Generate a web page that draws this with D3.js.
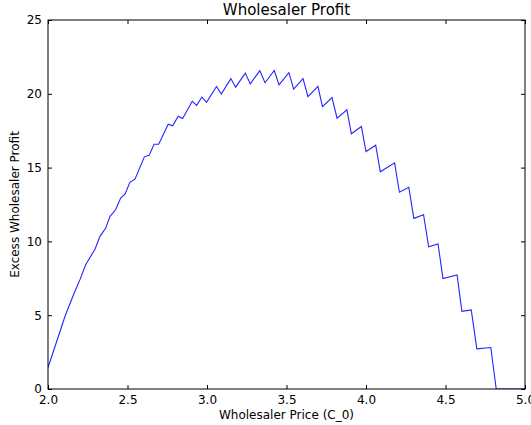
<!DOCTYPE html>
<html>
<head>
<meta charset="utf-8">
<script src="https://cdn.jsdelivr.net/npm/d3@7"></script>
<style>
	body { margin: 0; background: #fff; }
	text { font-family: "DejaVu Sans", sans-serif; fill: #000; }
	.axis path, .axis line { stroke: #000; }
</style>
</head>
<body>
<div id="chart-area"></div>
<script>
// prices (C_0) and excess profit
var prices = [2.000, 2.054, 2.107, 2.163, 2.201, 2.237, 2.268, 2.296, 2.327, 2.363, 2.390, 2.425,
	2.457, 2.484, 2.515, 2.547, 2.606, 2.636, 2.667, 2.696, 2.756, 2.784, 2.819, 2.847, 2.907, 2.935,
	2.968, 2.997, 3.060, 3.090, 3.150, 3.180, 3.241, 3.272, 3.332, 3.365, 3.423, 3.453, 3.515, 3.545,
	3.604, 3.635, 3.698, 3.726, 3.786, 3.818, 3.880, 3.908, 3.971, 4.000, 4.061, 4.090, 4.180, 4.210,
	4.269, 4.301, 4.362, 4.394, 4.453, 4.484, 4.573, 4.603, 4.662, 4.697, 4.785, 4.819, 5.000];
var profits = [1.45, 3.20, 4.93, 6.45, 7.41, 8.42, 8.98, 9.49, 10.34, 10.90, 11.70, 12.14,
	12.94, 13.20, 14.00, 14.22, 15.73, 15.83, 16.58, 16.59, 17.94, 17.83, 18.48, 18.32, 19.49, 19.22,
	19.78, 19.42, 20.49, 19.99, 21.03, 20.45, 21.40, 20.67, 21.57, 20.75, 21.58, 20.60, 21.43, 20.32,
	21.03, 19.81, 20.51, 19.13, 19.74, 18.35, 18.91, 17.29, 17.78, 16.09, 16.52, 14.72, 15.32, 13.33,
	13.67, 11.56, 11.81, 9.64, 9.83, 7.49, 7.73, 5.26, 5.36, 2.72, 2.81, 0, 0];
var xTicks = [2.0, 2.5, 3.0, 3.5, 4.0, 4.5, 5.0];
var yTicks = [0, 5, 10, 15, 20, 25];

var data = prices.map((p, i) => ({price: p, profit: profits[i]}));

var margin = {top: 20, right: 6, bottom: 36, left: 48};
let width = 531 - margin.left - margin.right,
	height = 425 - margin.top - margin.bottom;

var svg = d3.select("#chart-area").append("svg")
	.attr("width", width + margin.left + margin.right)
	.attr("height", height + margin.top + margin.bottom)
	.append("g")
	.attr("transform", "translate(" + margin.left + "," + margin.top + ")");

var x = d3.scaleLinear().domain([2, 5]).range([0, width]);
var y = d3.scaleLinear().domain([0, 25]).range([height, 0]);

var line = d3.line()
	.x(d => x(d.price))
	.y(d => y(d.profit));

svg.append("defs").append("clipPath").attr("id", "clip")
	.append("rect").attr("width", width).attr("height", height);

svg.append("path")
	.datum(data)
	.attr("clip-path", "url(#clip)")
	.attr("fill", "none")
	.attr("stroke", "#2424ff")
	.attr("stroke-width", 1.1)
	.attr("d", line);

// ticks pointing inward on all four sides
var fmt = d3.format(".1f");
svg.append("g").attr("class", "axis x-axis")
	.attr("transform", "translate(0," + height + ")")
	.call(d3.axisBottom(x).tickValues(xTicks).tickFormat(fmt).tickSizeInner(-4).tickSizeOuter(0).tickPadding(6))
	.call(g => g.select(".domain").remove())
	.selectAll("text").style("font-size", "12px");
svg.append("g").attr("class", "axis")
	.call(d3.axisTop(x).tickValues(xTicks).tickFormat("").tickSizeInner(-4).tickSizeOuter(0))
	.call(g => g.select(".domain").remove());
svg.append("g").attr("class", "axis y-axis")
	.call(d3.axisLeft(y).tickValues(yTicks).tickSizeInner(-4).tickSizeOuter(0).tickPadding(6))
	.call(g => g.select(".domain").remove())
	.selectAll("text").style("font-size", "12px");
svg.append("g").attr("class", "axis")
	.attr("transform", "translate(" + width + ",0)")
	.call(d3.axisRight(y).tickValues(yTicks).tickFormat("").tickSizeInner(-4).tickSizeOuter(0))
	.call(g => g.select(".domain").remove());

svg.append("rect")
	.attr("width", width).attr("height", height)
	.attr("fill", "none").attr("stroke", "#000").attr("stroke-width", 1);

svg.append("text")
	.attr("x", width / 2).attr("y", -5)
	.attr("text-anchor", "middle")
	.style("font-size", "15px")
	.text("Wholesaler Profit");

svg.append("text")
	.attr("x", width / 2).attr("y", height + 30)
	.attr("text-anchor", "middle")
	.style("font-size", "12px")
	.text("Wholesaler Price (C_0)");

svg.append("text")
	.attr("transform", "rotate(-90)")
	.attr("x", -height / 2).attr("y", -29)
	.attr("text-anchor", "middle")
	.style("font-size", "12px")
	.text("Excess Wholesaler Profit");
</script>
</body>
</html>
